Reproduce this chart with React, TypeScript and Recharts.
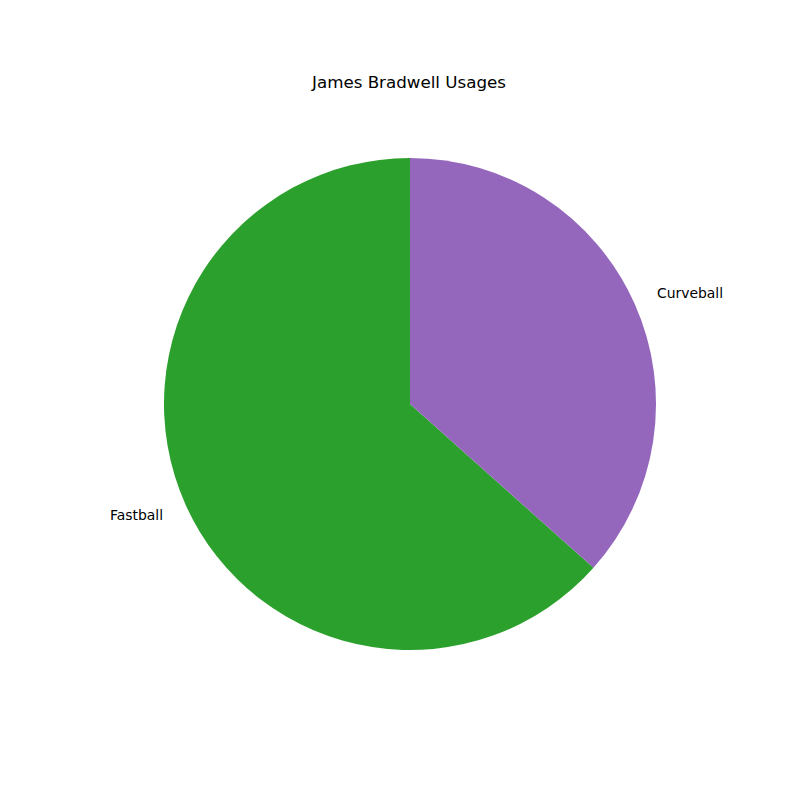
import { PieChart, Pie, Cell } from 'recharts'

const pitchNames = ['Fastball', 'Curveball']
const pitchUsage = [63.4, 36.6]
const pitchColors = ['#2ca02c', '#9467bd']

const data = pitchNames.map((name, i) => ({ name, value: pitchUsage[i] }))

const RAD = Math.PI / 180

function renderLabel(props: any) {
  const { cx, cy, midAngle, outerRadius, name } = props
  const r = outerRadius * 1.1
  const cos = Math.cos(-midAngle * RAD)
  const x = cx + r * cos
  const y = cy + r * Math.sin(-midAngle * RAD)
  return (
    <text
      x={x}
      y={y}
      fill="#000"
      fontSize={13.9}
      fontFamily="DejaVu Sans"
      textAnchor={cos >= 0 ? 'start' : 'end'}
      dominantBaseline="central"
    >
      {name}
    </text>
  )
}

export default function App() {
  return (
    <div style={{ position: 'absolute', left: 0, top: 0, width: 800, height: 800, background: '#fff' }}>
      <div
        style={{
          position: 'absolute',
          left: 0,
          width: 818,
          top: 72,
          textAlign: 'center',
          fontFamily: 'DejaVu Sans',
          fontSize: 16.7,
          lineHeight: '20px',
          color: '#000',
        }}
      >
        James Bradwell Usages
      </div>
      <PieChart width={800} height={800} margin={{ top: 0, right: 0, bottom: 0, left: 0 }}>
        <Pie
          data={data}
          dataKey="value"
          nameKey="name"
          cx={410}
          cy={404}
          outerRadius={246}
          startAngle={90}
          endAngle={450}
          stroke="none"
          labelLine={false}
          label={renderLabel}
          isAnimationActive={false}
        >
          {data.map((_, i) => (
            <Cell key={i} fill={pitchColors[i]} />
          ))}
        </Pie>
      </PieChart>
    </div>
  )
}
